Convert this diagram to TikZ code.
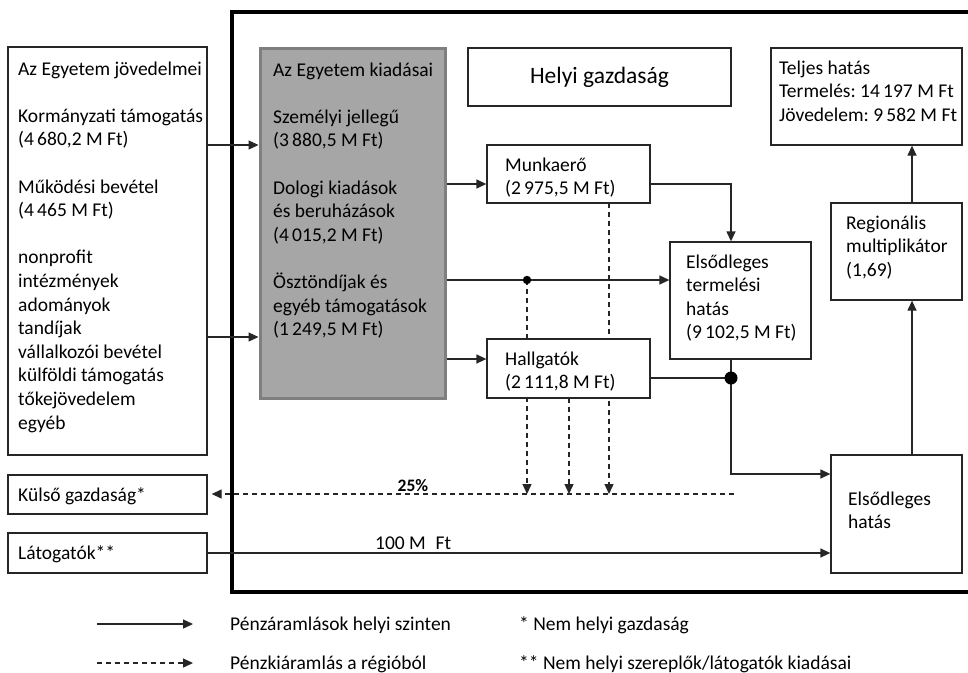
\documentclass[tikz,border=0pt]{standalone}
\usepackage{fontspec}
\setmainfont{Carlito}
\usetikzlibrary{arrows.meta,calc}
\definecolor{linec}{HTML}{262626}
\definecolor{grayfill}{HTML}{A6A6A6}
\definecolor{grayedge}{HTML}{7F7F7F}
\newcommand{\mlines}[1]{\begin{tabular}[t]{@{}l@{}}#1\end{tabular}}
\frenchspacing
\begin{document}
\begin{tikzpicture}[x=1pt,y=-1pt,
  box/.style={draw=linec, line width=1.3pt, fill=white, inner sep=0pt},
  txt/.style={anchor=base west, inner sep=0pt, font=\fontsize{19.5}{23.6}\selectfont},
  flow/.style={draw=linec, line width=1.3pt, -{Triangle[length=10pt,width=9pt]}},
  line/.style={draw=linec, line width=1.3pt},
  outflow/.style={draw=linec, line width=1.3pt, dash pattern=on 5pt off 4pt, -{Triangle[length=10pt,width=9pt]}},
]
\useasboundingbox (0,0) rectangle (968,672);
\fill[white] (0,0) rectangle (968,672);

% outer frame of the local economy
\draw[line width=4.5pt, black] (990,12) -- (232,12) -- (232,592) -- (990,592);

% dashed verticals (drawn below boxes)
\coordinate (dA) at (527,280);
\coordinate (dAb) at (527,494);
\coordinate (dB) at (569,398);
\coordinate (dBb) at (569,494);
\coordinate (dC) at (609,203);
\coordinate (dCb) at (609,494);
\draw[outflow] (dA) -- (dAb);
\draw[outflow] (dB) -- (dBb);
\draw[outflow] (dC) -- (dCb);

% boxes
\node[box, minimum width=199pt, minimum height=408pt] (inc) at (107.5,251) {};
\node[box, minimum width=199pt, minimum height=39pt] (kulso) at (107.5,494.5) {};
\node[box, minimum width=199pt, minimum height=40pt] (lat) at (107.5,553) {};
\node[draw=grayedge, fill=grayfill, line width=3pt, inner sep=0pt, minimum width=185pt, minimum height=350pt] (kiad) at (352.5,223) {};
\node[box, minimum width=263pt, minimum height=58pt, font=\fontsize{23.5}{28}\selectfont] (helyi) at (599.5,77) {Helyi gazdaság};
\node[box, minimum width=191pt, minimum height=97pt] (teljes) at (866.5,96.5) {};
\node[box, minimum width=163pt, minimum height=58pt] (munka) at (568.5,174) {};
\node[box, minimum width=141pt, minimum height=117pt] (elst) at (740.5,300.5) {};
\node[box, minimum width=131pt, minimum height=97pt] (reg) at (896.5,251.5) {};
\node[box, minimum width=163pt, minimum height=59pt] (hallg) at (568.5,368.5) {};
\node[box, minimum width=131pt, minimum height=118pt] (elsh) at (896.5,514) {};

% texts
\node[txt] (incT) at (18,75) {\mlines{Az Egyetem jövedelmei\\[23.6pt]Kormányzati támogatás\\(4\,680,2 M Ft)\\[23.6pt]Működési bevétel\\(4\,465 M Ft)\\[23.6pt]nonprofit\\intézmények\\adományok\\tandíjak\\vállalkozói bevétel\\külföldi támogatás\\tőkejövedelem\\egyéb}};
\node[txt] (kiadT) at (273,76) {\mlines{Az Egyetem kiadásai\\[23.6pt]Személyi jellegű\\(3\,880,5 M Ft)\\[23.6pt]Dologi kiadások\\és beruházások\\(4\,015,2 M Ft)\\[23.6pt]Ösztöndíjak és\\egyéb támogatások\\(1\,249,5 M Ft)}};
\node[txt] (teljesT) at (779,74) {\mlines{Teljes hatás\\Termelés: 14\,197 M Ft\\Jövedelem: 9\,582 M Ft}};
\node[txt] (munkaT) at (505,171) {\mlines{Munkaerő\\(2\,975,5 M Ft)}};
\node[txt] (elstT) at (686,268) {\mlines{Elsődleges\\termelési\\hatás\\(9\,102,5 M Ft)}};
\node[txt] (regT) at (846,229) {\mlines{Regionális\\multiplikátor\\(1,69)}};
\node[txt] (hallgT) at (505,365) {\mlines{Hallgatók\\(2\,111,8 M Ft)}};
\node[txt] (elshT) at (848,505) {\mlines{Elsődleges\\hatás}};
\node[txt] (kulsoT) at (18,501) {Külső gazdaság*};
\node[txt] (latT) at (18,559) {Látogatók**};

% coordinates for connectors
\coordinate (y145) at (0,145);
\coordinate (y337) at (0,337);
\coordinate (y184) at (0,184);
\coordinate (y280) at (0,280);
\coordinate (y359) at (0,359);
\coordinate (y378) at (0,378);
\coordinate (y474) at (0,474);
\coordinate (y553) at (0,553);
\coordinate (x731) at (731,0);
\coordinate (x912) at (912,0);
\coordinate (dot2) at (731,378);
\coordinate (dend) at (734,494);

% solid flows
\draw[flow] (inc.east |- y145) -- (kiad.west |- y145);
\draw[flow] (inc.east |- y337) -- (kiad.west |- y337);
\draw[flow] (kiad.east |- y184) -- (munka.west |- y184);
\draw[flow] (kiad.east |- y280) -- (elst.west |- y280);
\draw[flow] (kiad.east |- y359) -- (hallg.west |- y359);
\draw[flow] (munka.east |- y184) -| (elst.north -| x731);
\draw[line] (hallg.east |- y378) -- (dot2);
\draw[flow] (elst.south -| x731) -- (x731 |- y474) -- (elsh.west |- y474);
\draw[flow] (elsh.north -| x912) -- (reg.south -| x912);
\draw[flow] (reg.north -| x912) -- (teljes.south -| x912);
\draw[flow] (lat.east |- y553) -- node[above, pos=0.33, inner sep=3pt, font=\fontsize{19.5}{22}\selectfont] (lab100) {100 M\; Ft} (elsh.west |- y553);

% outflow
\draw[outflow, shorten >=4pt] (dend) -- node[above, pos=0.61, inner sep=2pt, font=\bfseries\fontsize{17.5}{20}\selectfont] (lab25) {25\%} (kulso.east |- dend);

% dots
\fill[black] (dA) circle (4.2pt);
\fill[black] (dot2) circle (6.5pt);

% legend
\coordinate (la1) at (97,624);
\coordinate (lb1) at (193,624);
\coordinate (la2) at (97,663);
\coordinate (lb2) at (193,663);
\draw[flow] (la1) -- (lb1);
\draw[outflow] (la2) -- (lb2);
\node[txt] (leg1) at (230,630) {Pénzáramlások helyi szinten};
\node[txt] (leg2) at (230,669) {Pénzkiáramlás a régióból};
\node[txt] (leg3) at (519,630) {* Nem helyi gazdaság};
\node[txt] (leg4) at (519,669) {** Nem helyi szereplők/látogatók kiadásai};
\end{tikzpicture}
\end{document}
